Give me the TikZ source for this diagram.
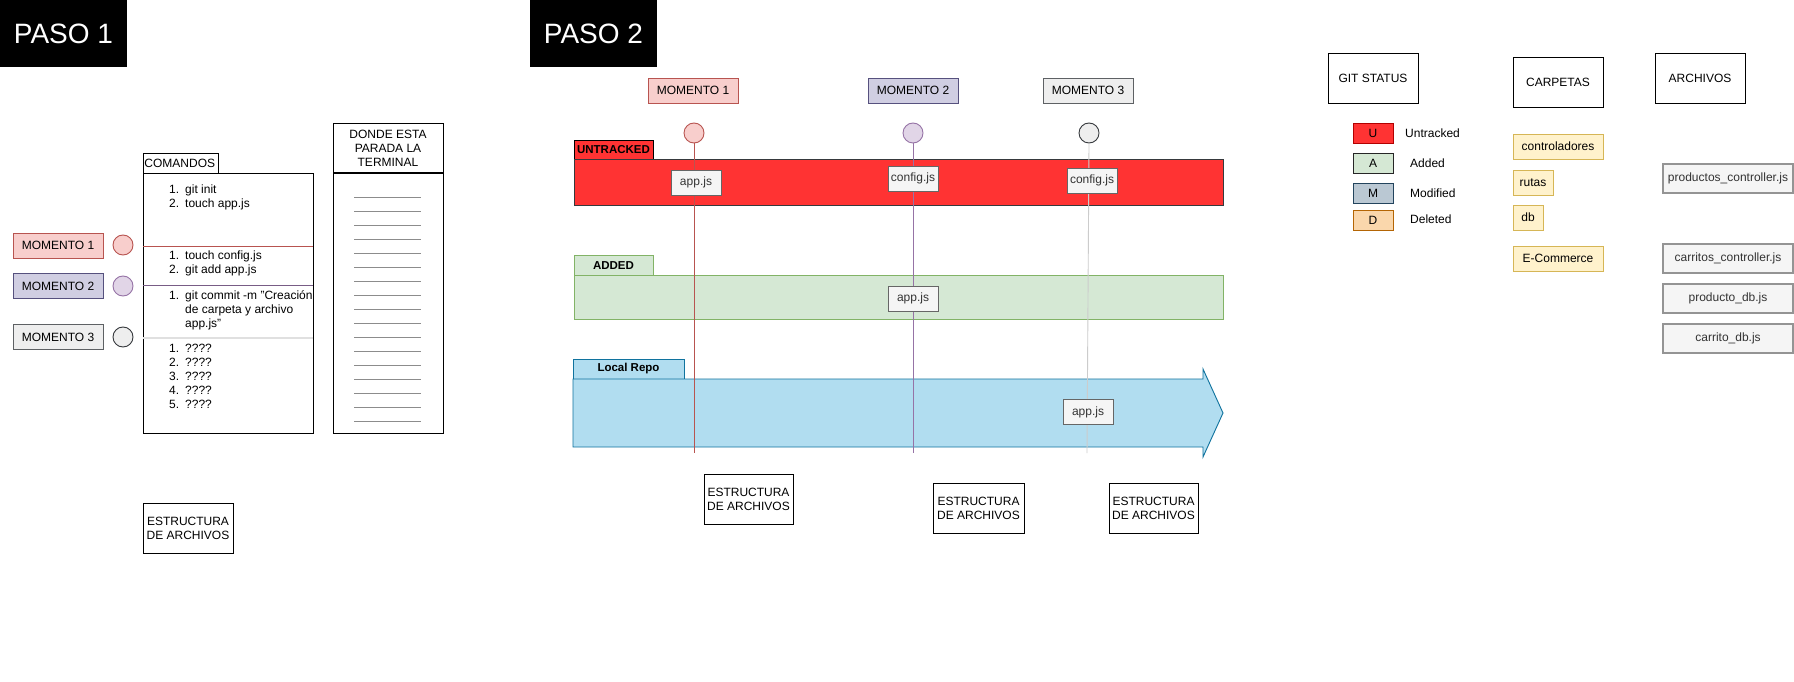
\documentclass[tikz,border=0pt]{standalone}
\usepackage{fontspec}
\setmainfont{Liberation Sans}
\newcommand\fsz{\fontsize{12}{14}\selectfont}
\definecolor{mOneF}{HTML}{F8CECC}\definecolor{mOneD}{HTML}{B85450}
\definecolor{mTwoF}{HTML}{D0CEE2}\definecolor{mTwoD}{HTML}{56517E}
\definecolor{cTwoF}{HTML}{E1D5E7}\definecolor{cTwoD}{HTML}{9673A6}
\definecolor{mThrF}{HTML}{EEEEEE}\definecolor{mThrD}{HTML}{36393D}
\definecolor{untF}{HTML}{FF3333}\definecolor{untD}{HTML}{B20000}
\definecolor{addF}{HTML}{D5E8D4}\definecolor{addD}{HTML}{82B366}
\definecolor{repF}{HTML}{B1DDF0}\definecolor{repD}{HTML}{10739E}
\definecolor{modF}{HTML}{BAC8D3}\definecolor{modD}{HTML}{23445D}
\definecolor{delF}{HTML}{FAD7AC}\definecolor{delD}{HTML}{B46504}
\definecolor{folF}{HTML}{FFF2CC}\definecolor{folD}{HTML}{D6B656}
\definecolor{filF}{HTML}{F5F5F5}\definecolor{filD}{HTML}{666666}\definecolor{filT}{HTML}{333333}
\definecolor{grL}{HTML}{CCCCCC}
\tikzset{
  box/.style={draw, inner sep=0pt, align=center, font=\fsz, line width=0.9pt},
  paso/.style={fill=black, text=white, inner sep=0pt, minimum width=127, minimum height=67, font=\fontsize{28}{32}\selectfont},
  mone/.style={box, fill=mOneF, draw=mOneD, minimum width=90, minimum height=25},
  mtwo/.style={box, fill=mTwoF, draw=mTwoD, minimum width=90, minimum height=25},
  mthr/.style={box, fill=mThrF, draw=mThrD!80, minimum width=90, minimum height=25},
  cone/.style={circle, draw=mOneD, fill=mOneF, minimum size=20, inner sep=0pt, line width=0.9pt},
  ctwo/.style={circle, draw=cTwoD, fill=cTwoF, minimum size=20, inner sep=0pt, line width=0.9pt},
  cthr/.style={circle, draw=mThrD, fill=mThrF, minimum size=20, inner sep=0pt, line width=0.9pt},
  plain/.style={box, draw=black, fill=white},
  estr/.style={plain, minimum width=90, minimum height=50},
  filebox/.style={box, fill=filF, draw=filD, text=filT, minimum width=50, minimum height=25},
  bigfile/.style={box, fill=filF, draw=filD!70, text=filT, line width=1.5pt, minimum width=130, minimum height=29},
  folder/.style={box, fill=folF, draw=folD, minimum height=25},
  leg/.style={box, minimum width=40, minimum height=20},
  legtxt/.style={anchor=west, inner sep=0pt, font=\fsz},
  tag/.style={box, font=\fontsize{11.5}{13}\selectfont\bfseries, minimum height=20},
  vline/.style={line width=0.9pt},
}
\begin{document}
\begin{tikzpicture}[x=1pt,y=-1pt]
\useasboundingbox[fill=white] (0,0) rectangle (1794,682);

% ---------- PASO 1 ----------
\node[paso] (p1) at (63.5,33.5) {PASO 1};
\node[mone] (lm1) at (58,245.5) {MOMENTO 1};
\node[mtwo] (lm2) at (58,286) {MOMENTO 2};
\node[mthr] (lm3) at (58,337) {MOMENTO 3};
\node[cone] (lc1) at (123,245) {};
\node[ctwo] (lc2) at (123,286) {};
\node[cthr] (lc3) at (123,337) {};

\node[plain, anchor=north west, minimum width=75, minimum height=20, text width=73, align=left, inner sep=1pt] (comt) at (143,153) {COMANDOS};
\node[plain, anchor=north west, minimum width=170, minimum height=260] (cmd) at (143,173) {};
\draw[mOneD, line width=0.9pt] (143,246) -- (313,246);
\draw[cTwoD!80!black, line width=0.9pt] (143,285) -- (313,285);
\draw[black!12, line width=2pt] (143,338) -- (313,338);

\node[anchor=north west, inner sep=0pt, font=\fsz] (l1) at (169,183.5)
  {\begin{tabular}{@{}p{16pt}@{}l@{}}1.& git init\\2.& touch app.js\end{tabular}};
\node[anchor=north west, inner sep=0pt, font=\fsz] (l2) at (169,249.5)
  {\begin{tabular}{@{}p{16pt}@{}l@{}}1.& touch config.js\\2.& git add app.js\end{tabular}};
\node[anchor=north west, inner sep=0pt, font=\fsz] (l3) at (169,289.5)
  {\begin{tabular}{@{}p{16pt}@{}l@{}}1.& git commit -m "Creación\\ & de carpeta y archivo\\ & app.js"\end{tabular}};
\node[anchor=north west, inner sep=0pt, font=\fsz] (l4) at (169,342.5)
  {\begin{tabular}{@{}p{16pt}@{}l@{}}1.& ????\\2.& ????\\3.& ????\\4.& ????\\5.& ????\end{tabular}};

\node[plain, anchor=north west, minimum width=110, minimum height=310] (term) at (333,123) {};
\draw[line width=1.2pt] (333,173) -- (443,173);
\node[font=\fsz, align=center, inner sep=0pt] (termt) at (388,148) {DONDE ESTA\\PARADA LA\\TERMINAL};
\foreach \k in {0,...,16}{
  \draw[black!45, line width=0.8pt] (354,197+14*\k) -- (421,197+14*\k);
}

\node[estr] (el) at (188,528) {ESTRUCTURA\\DE ARCHIVOS};

% ---------- PASO 2 ----------
\node[paso] (p2) at (593.5,33.5) {PASO 2};
\node[mone] (m1) at (693,90.5) {MOMENTO 1};
\node[mtwo] (m2) at (913,90.5) {MOMENTO 2};
\node[mthr] (m3) at (1088,90.5) {MOMENTO 3};
\node[cone] (c1) at (694,133) {};
\node[ctwo] (c2) at (913,133) {};
\node[cthr] (c3) at (1089,133) {};

% bars
\node[tag, fill=untF, draw=black, minimum width=79] (untl) at (613.5,150) {UNTRACKED};
\node[box, anchor=north west, fill=untF, draw=mThrD, minimum width=649, minimum height=46] (untb) at (574,159) {};
\node[tag, fill=addF, draw=addD, minimum width=79] (addl) at (613.5,265.5) {ADDED};
\node[box, anchor=north west, fill=addF, draw=addD, minimum width=649, minimum height=44] (addb) at (574,275) {};
\node[tag, fill=repF, draw=repD, minimum width=111] (repl) at (628.5,369) {Local Repo};
\draw[fill=repF, draw=repD, line width=0.9pt]
  (573,379) -- (1203,379) -- (1203,369) -- (1223,413) -- (1203,457) -- (1203,447) -- (573,447) -- cycle;

% timelines
\coordinate (e1) at (694,453);
\coordinate (e2) at (913,453);
\coordinate (e3) at (1087,453);
\draw[vline, mOneD] (c1.south) -- (e1);
\draw[vline, cTwoD] (c2.south) -- (e2);
\draw[vline, grL] (c3.south) -- (e3);

% files on the timelines
\node[filebox] (f1) at (696,182.5) {app.js};
\node[filebox] (f2) at (913,178.5) {config.js};
\node[filebox] (f3) at (1092,180.5) {config.js};
\node[filebox] (f4) at (913,298.5) {app.js};
\node[filebox] (f5) at (1088,412) {app.js};

\node[estr, minimum width=89] (es1) at (748.5,499) {ESTRUCTURA\\DE ARCHIVOS};
\node[estr, minimum width=91] (es2) at (978.5,508) {ESTRUCTURA\\DE ARCHIVOS};
\node[estr, minimum width=89] (es3) at (1153.5,508) {ESTRUCTURA\\DE ARCHIVOS};

% ---------- legend ----------
\node[estr] (gs) at (1373,78) {GIT STATUS};
\node[estr] (cp) at (1558,82) {CARPETAS};
\node[estr] (ar) at (1700,78) {ARCHIVOS};

\node[leg, fill=untF, draw=untD] (lu) at (1373,133) {U};
\node[leg, fill=addF, draw=black!85] (la) at (1373,163) {A};
\node[leg, fill=modF, draw=modD] (lmo) at (1373,193) {M};
\node[leg, fill=delF, draw=delD] (ld) at (1373,220) {D};
\node[legtxt] (tu) at (1405,133) {Untracked};
\node[legtxt] (ta) at (1410,163) {Added};
\node[legtxt] (tm) at (1410,193) {Modified};
\node[legtxt] (td) at (1410,219) {Deleted};

\node[folder, minimum width=90] (fc) at (1558,146.5) {controladores};
\node[folder, minimum width=40] (fr) at (1533,182.5) {rutas};
\node[folder, minimum width=30] (fd) at (1528,217.5) {db};
\node[folder, minimum width=90] (fe) at (1558,258.5) {E-Commerce};

\node[bigfile] (a1) at (1728,178.5) {productos\_controller.js};
\node[bigfile] (a2) at (1728,258.5) {carritos\_controller.js};
\node[bigfile] (a3) at (1728,298.5) {producto\_db.js};
\node[bigfile] (a4) at (1728,338.5) {carrito\_db.js};
\end{tikzpicture}
\end{document}
